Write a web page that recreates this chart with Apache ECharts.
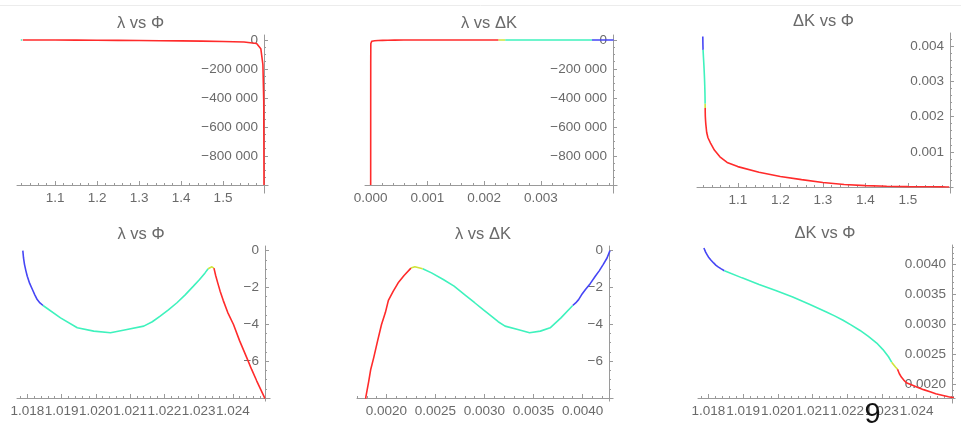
<!DOCTYPE html>
<html>
<head>
<meta charset="utf-8">
<script src="https://cdn.jsdelivr.net/npm/echarts@6/dist/echarts.min.js"></script>
<style>
  html, body { margin: 0; padding: 0; background: #ffffff; }
  #chart { width: 961px; height: 426px; }
</style>
</head>
<body>
<div id="chart"></div>
<script>
// Branch samples along the curve: Φ, ΔK and λ for each colored piece.
const phiBlue = [1.01787, 1.01789, 1.01792, 1.01796, 1.01800, 1.01807, 1.01815, 1.01822, 1.01829, 1.01837, 1.01846];
const dKBlue  = [0.00428, 0.00425, 0.00421, 0.00417, 0.00413, 0.00408, 0.00403, 0.00399, 0.00396, 0.00393, 0.00390];
const lamBlue = [0, -0.40, -0.76, -1.10, -1.39, -1.78, -2.11, -2.40, -2.66, -2.84, -2.98];

const phiCyan = [1.01846, 1.01897, 1.01946, 1.01994, 1.02043, 1.02091, 1.02140, 1.02165, 1.02188, 1.02212, 1.02237,
                 1.02261, 1.02285, 1.02303, 1.02319, 1.02328];
const dKCyan  = [0.00390, 0.00378, 0.00367, 0.00357, 0.00346, 0.00334, 0.00321, 0.00314, 0.00307, 0.00299, 0.00290,
                 0.00280, 0.00269, 0.00258, 0.00246, 0.00237];
const lamCyan = [-2.98, -3.65, -4.19, -4.37, -4.46, -4.28, -4.10, -3.86, -3.56, -3.22, -2.83,
                 -2.40, -1.93, -1.57, -1.21, -0.98];

const phiYellow = [1.02328, 1.02339, 1.02345];
const dKYellow  = [0.00237, 0.00229, 0.00225];
const lamYellow = [-0.98, -0.88, -0.95];

const phiRed = [1.02345, 1.02350, 1.02356, 1.02363, 1.02372, 1.02385, 1.02402, 1.02420, 1.02441, 1.02455, 1.02470,
                1.02492, 1.0270, 1.0300, 1.0360, 1.0450, 1.0580, 1.0750, 1.1000, 1.1500, 1.2000, 1.2500,
                1.3000, 1.3500, 1.4000, 1.4500, 1.5000, 1.5500, 1.5800, 1.5900, 1.5950, 1.5970, 1.5976];
const dKRed  = [0.00225, 0.00218, 0.00212, 0.00207, 0.00202, 0.00199, 0.00195, 0.00191, 0.00187, 0.00184, 0.00182,
                0.00179, 0.00155, 0.00140, 0.00125, 0.00105, 0.00086, 0.00070, 0.00058, 0.00042, 0.00030, 0.00021,
                0.00013, 0.00007, 0.00004, 0.00002, 0.00001, 0.000005, 0.000003, 0.000002, 0.000001, 0.0000005, 0];
const lamRed = [-0.95, -1.35, -1.75, -2.2, -2.7, -3.35, -4.01, -4.9, -5.82, -6.45, -7.08,
                -7.95, -20, -40, -80, -150, -260, -420, -800, -1500, -2300, -3200,
                -4200, -5400, -6800, -8500, -10500, -14000, -25000, -60000, -170000, -420000, -1000000];

// Tick labels
const ticksPhiWide   = [1.1, 1.2, 1.3, 1.4, 1.5];
const ticksPhiNarrow = [1.018, 1.019, 1.020, 1.021, 1.022, 1.023, 1.024];
const ticksDKWide    = [0, 0.001, 0.002, 0.003];
const ticksDKNarrow  = [0.0020, 0.0025, 0.0030, 0.0035, 0.0040];
const ticksDKVert    = [0.001, 0.002, 0.003, 0.004];
const ticksLamWide   = [-800000, -600000, -400000, -200000, 0];
const ticksLamNarrow = [-6, -4, -2, 0];

const titles = ['λ vs Φ', 'λ vs ΔK', 'ΔK vs Φ', 'λ vs Φ', 'λ vs ΔK', 'ΔK vs Φ'];

const branches = [
  { color: '#4646f5', phi: phiBlue,   dK: dKBlue,   lam: lamBlue },
  { color: '#3ff2bd', phi: phiCyan,   dK: dKCyan,   lam: lamCyan },
  { color: '#cfe43a', phi: phiYellow, dK: dKYellow, lam: lamYellow },
  { color: '#ff2b2b', phi: phiRed,    dK: dKRed,    lam: lamRed }
];

const MINUS = '\u2212';
const fmtThousands = v => {
  if (v === 0) return '0';
  const s = String(Math.abs(v)).replace(/\B(?=(\d{3})+(?!\d))/g, ' ');
  return (v < 0 ? MINUS : '') + s;
};
const fmtInt = v => (v < 0 ? MINUS : '') + Math.abs(v);
const fmtFixed = d => v => v.toFixed(d);

function minorSteps(min, max, step) {
  const out = [];
  const a = Math.ceil(min / step - 1e-9), b = Math.floor(max / step + 1e-9);
  for (let k = a; k <= b; k++) out.push(+(k * step).toFixed(10));
  return out;
}

// overhang: how far the vertical axis runs below the horizontal one, and the horizontal one past the vertical one
const panels = [
  { grid: { left: 17,  top: 35,  width: 247, height: 150 }, overhang: [8, 4], xKey: 'phi', yKey: 'lam',
    x: [1.0095, 1.5976], y: [-1000000, 34000], xTicks: ticksPhiWide, xMinor: 0.02, xFmt: fmtFixed(1),
    yTicks: ticksLamWide, yMinor: 50000, yFmt: fmtThousands },
  { grid: { left: 365, top: 35,  width: 248, height: 150 }, overhang: [8, 4], xKey: 'dK', yKey: 'lam',
    x: [-0.0001, 0.00427], y: [-1000000, 34000], xTicks: ticksDKWide, xMinor: 0.0002, xFmt: fmtFixed(3),
    yTicks: ticksLamWide, yMinor: 50000, yFmt: fmtThousands },
  { grid: { left: 697, top: 33,  width: 253, height: 154 }, overhang: [6, 3], xKey: 'phi', yKey: 'dK',
    x: [1.0042, 1.5988], y: [0, 0.00438], xTicks: ticksPhiWide, xMinor: 0.02, xFmt: fmtFixed(1),
    yTicks: ticksDKVert, yMinor: 0.0002, yFmt: fmtFixed(3) },
  { grid: { left: 17,  top: 246, width: 248, height: 152 }, overhang: [3, 5], xKey: 'phi', yKey: 'lam',
    x: [1.0177, 1.02494], y: [-8, 0.25], xTicks: ticksPhiNarrow, xMinor: 0.0002, xFmt: fmtFixed(3),
    yTicks: ticksLamNarrow, yMinor: 0.5, yFmt: fmtInt },
  { grid: { left: 357, top: 246, width: 252, height: 152 }, overhang: [3, 4], xKey: 'dK', yKey: 'lam',
    x: [0.0017, 0.00427], y: [-8, 0.25], xTicks: ticksDKNarrow, xMinor: 0.0001, xFmt: fmtFixed(4),
    yTicks: ticksLamNarrow, yMinor: 0.5, yFmt: fmtInt },
  { grid: { left: 698, top: 245, width: 254, height: 153 }, overhang: [5, 3], xKey: 'phi', yKey: 'dK',
    x: [1.01770, 1.02502], y: [0.00177, 0.00433], xTicks: ticksPhiNarrow, xMinor: 0.0002, xFmt: fmtFixed(3),
    yTicks: ticksDKNarrow, yMinor: 0.0001, yFmt: fmtFixed(4) }
];

const AXIS_COLOR = '#9a9a9a';
const LABEL_COLOR = '#6a6a6a';
const FONT = "'Liberation Sans', Arial, sans-serif";
const LABEL_SIZE = 13.5;

const option = { animation: false, grid: [], xAxis: [], yAxis: [], series: [], graphic: [] };

panels.forEach((p, i) => {
  option.grid.push(Object.assign({ containLabel: false }, p.grid));
  const base = { type: 'value', gridIndex: i, splitLine: { show: false } };
  // major ticks with labels
  option.xAxis.push(Object.assign({}, base, {
    min: p.x[0], max: p.x[1], position: 'bottom',
    axisLine: { show: true, onZero: false, lineStyle: { color: AXIS_COLOR, width: 1 } },
    axisTick: { show: true, inside: true, length: 4, customValues: p.xTicks, lineStyle: { color: AXIS_COLOR } },
    axisLabel: { show: true, customValues: p.xTicks, formatter: p.xFmt, color: LABEL_COLOR,
                 fontSize: LABEL_SIZE, fontFamily: FONT, margin: 6 }
  }));
  // minor ticks
  option.xAxis.push(Object.assign({}, base, {
    min: p.x[0], max: p.x[1], position: 'bottom',
    axisLine: { show: false, onZero: false },
    axisTick: { show: true, inside: true, length: 2, customValues: minorSteps(p.x[0], p.x[1], p.xMinor),
                lineStyle: { color: AXIS_COLOR } },
    axisLabel: { show: false }
  }));
  option.yAxis.push(Object.assign({}, base, {
    min: p.y[0], max: p.y[1], position: 'right',
    axisLine: { show: true, onZero: false, lineStyle: { color: AXIS_COLOR, width: 1 } },
    axisTick: { show: true, inside: false, length: 4, customValues: p.yTicks, lineStyle: { color: AXIS_COLOR } },
    axisLabel: { show: true, inside: true, customValues: p.yTicks, formatter: p.yFmt, color: LABEL_COLOR,
                 fontSize: LABEL_SIZE, fontFamily: FONT, margin: 6 }
  }));
  option.yAxis.push(Object.assign({}, base, {
    min: p.y[0], max: p.y[1], position: 'right',
    axisLine: { show: false, onZero: false },
    axisTick: { show: true, inside: false, length: 2, customValues: minorSteps(p.y[0], p.y[1], p.yMinor),
                lineStyle: { color: AXIS_COLOR } },
    axisLabel: { show: false }
  }));

  branches.forEach(b => {
    const xs = b[p.xKey], ys = b[p.yKey];
    option.series.push({
      type: 'line', xAxisIndex: 2 * i, yAxisIndex: 2 * i,
      data: xs.map((v, k) => [v, ys[k]]),
      showSymbol: false, symbol: 'none', clip: true, smooth: false,
      lineStyle: { color: b.color, width: 1.6 },
      emphasis: { disabled: true }, silent: true
    });
  });

  // axes cross each other and run on a little past the corner
  const g = p.grid, ax = g.left + g.width + 0.5, ay = g.top + g.height + 0.5;
  option.graphic.push({
    type: 'line', silent: true, z: 5,
    shape: { x1: ax, y1: ay, x2: ax, y2: ay + p.overhang[0] },
    style: { stroke: AXIS_COLOR, lineWidth: 1 }
  });
  option.graphic.push({
    type: 'line', silent: true, z: 5,
    shape: { x1: ax, y1: ay, x2: ax + p.overhang[1], y2: ay },
    style: { stroke: AXIS_COLOR, lineWidth: 1 }
  });

  option.graphic.push({
    type: 'text', silent: true,
    x: g.left + g.width / 2, y: g.top - 12,
    style: { text: titles[i], align: 'center', verticalAlign: 'middle',
             font: "16.5px " + FONT, fill: '#6a6a6a' }
  });
});

// page rule at the top and the page number
option.graphic.push({
  type: 'line', silent: true,
  shape: { x1: 0, y1: 5.5, x2: 961, y2: 5.5 },
  style: { stroke: '#ececec', lineWidth: 1 }
});
option.graphic.push({
  type: 'text', silent: true, x: 872.5, y: 414.5, z: 100,
  style: { text: '9', align: 'center', verticalAlign: 'middle', font: "29px " + FONT, fill: '#111111' }
});

const chart = echarts.init(document.getElementById('chart'), null, { renderer: 'canvas' });
chart.setOption(option);
</script>
</body>
</html>
